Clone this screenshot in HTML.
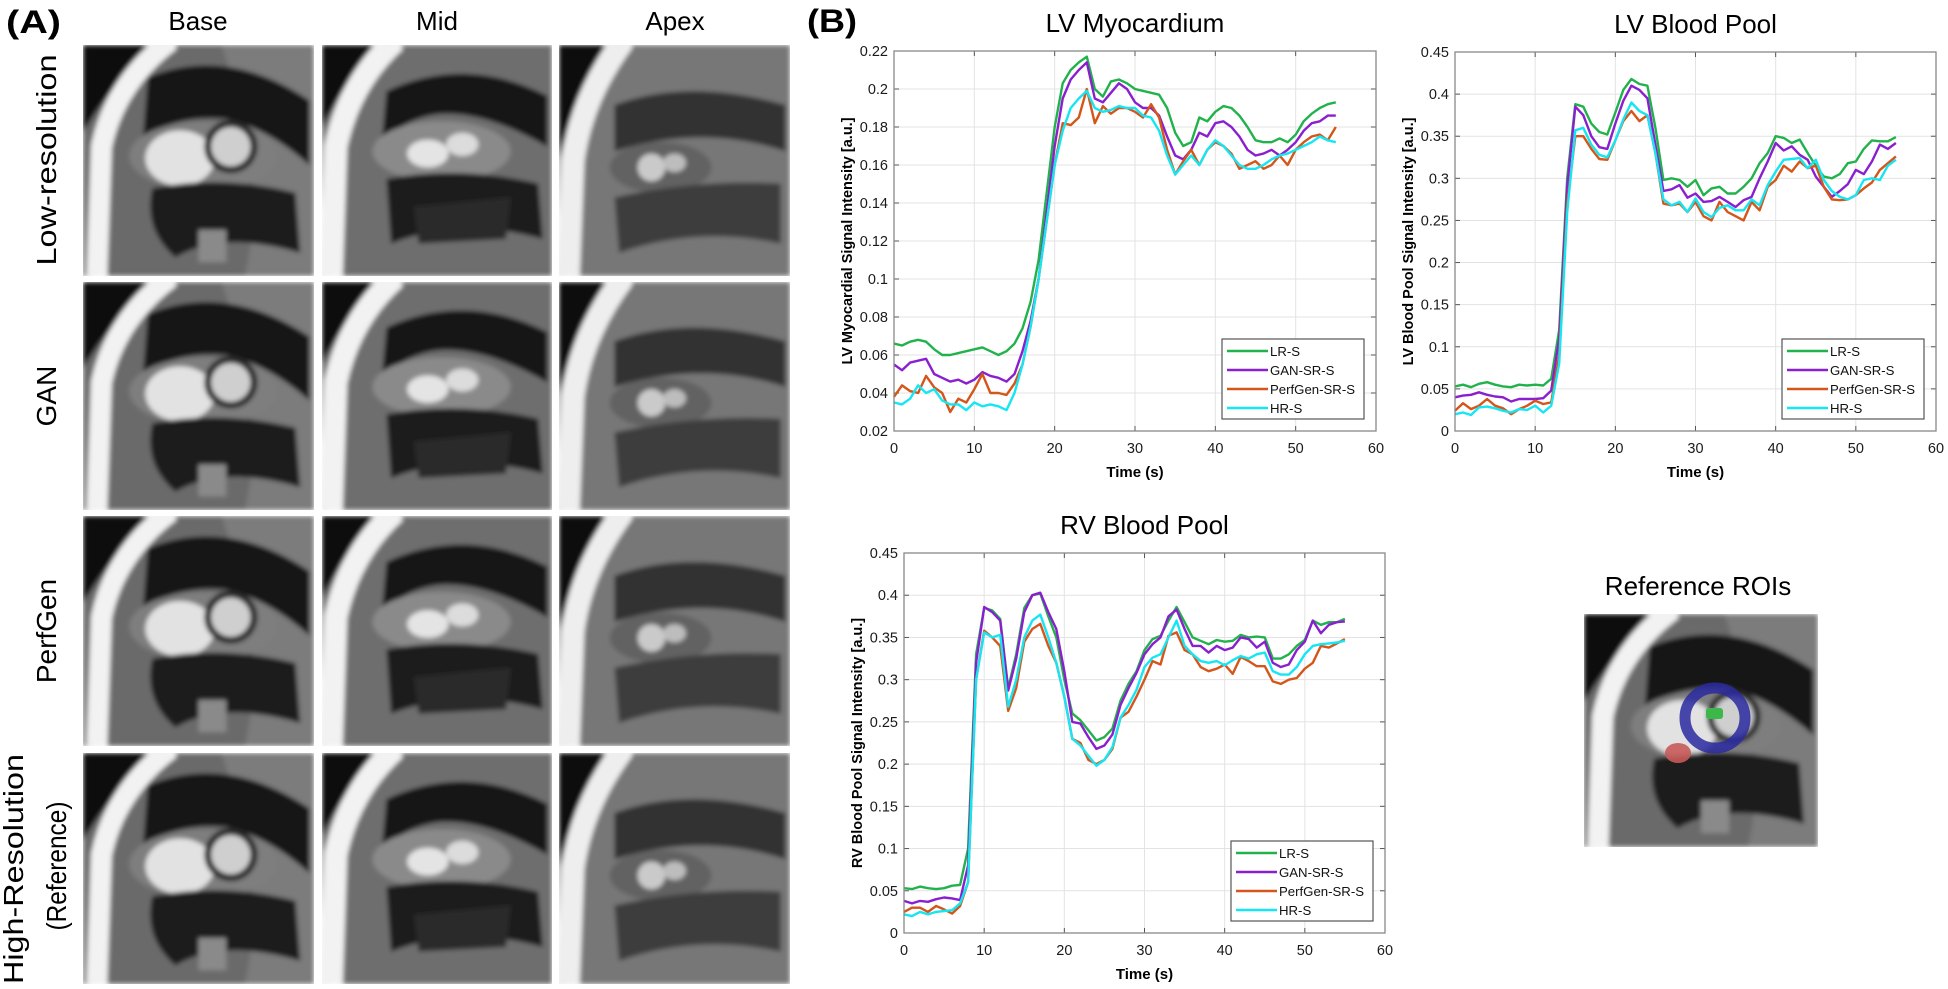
<!DOCTYPE html>
<html><head><meta charset="utf-8">
<style>
html,body{margin:0;padding:0;background:#fff;}
#fig{position:absolute;left:0;top:0;width:1948px;height:989px;}
text{font-family:"Liberation Sans",Arial,sans-serif;}
</style></head>
<body>
<svg id="fig" width="1948" height="989" viewBox="0 0 1948 989" xmlns="http://www.w3.org/2000/svg">
<defs>
<filter id="bl" x="-5%" y="-5%" width="110%" height="110%"><feGaussianBlur stdDeviation="1.0"/></filter>
<clipPath id="tc"><rect x="0" y="0" width="100" height="100"/></clipPath>
<symbol id="mri-base" viewBox="0 0 100 100" preserveAspectRatio="none">
 <g clip-path="url(#tc)" filter="url(#bl)">
 <rect width="100" height="100" fill="#6a6a6a"/>
 <path d="M60,0 L100,0 L100,100 L70,100 Q80,60 60,0Z" fill="#7c7c7c"/>
 <path d="M0,0 L32,0 Q14,14 0,38Z" fill="#0a0a0a"/>
 <path d="M38,-2 Q14,16 8,44 L6,100" stroke="#f2f2f2" stroke-width="9" fill="none"/>
 <path d="M28,14 Q62,0 98,24 L98,52 Q80,36 62,32 Q42,30 26,40Z" fill="#151515"/>
 <ellipse cx="52" cy="48" rx="32" ry="15" fill="#7e7e7e"/>
 <ellipse cx="42" cy="49" rx="15" ry="12" fill="#e2e2e2"/>
 <circle cx="64" cy="44" r="11.5" fill="#2a2a2a"/>
 <circle cx="64" cy="44" r="8.5" fill="#cfcfcf"/>
 <path d="M30,62 Q60,56 92,64 L94,90 Q60,80 40,92 Q26,80 30,62Z" fill="#1a1a1a"/>
 <rect x="50" y="80" width="12" height="14" fill="#8a8a8a"/>
 </g>
</symbol>
<symbol id="mri-mid" viewBox="0 0 100 100" preserveAspectRatio="none">
 <g clip-path="url(#tc)" filter="url(#bl)">
 <rect width="100" height="100" fill="#6e6e6e"/>
 <path d="M0,0 L26,0 Q10,14 0,36Z" fill="#0a0a0a"/>
 <path d="M32,-2 Q12,16 6,44 L4,100" stroke="#f2f2f2" stroke-width="10" fill="none"/>
 <path d="M28,20 Q62,4 98,22 L98,44 Q70,28 50,30 Q36,32 26,42Z" fill="#181818"/>
 <ellipse cx="52" cy="46" rx="30" ry="13" fill="#8a8a8a"/>
 <ellipse cx="46" cy="47" rx="9" ry="6" fill="#e4e4e4"/>
 <ellipse cx="61" cy="43" rx="7" ry="5" fill="#dcdcdc"/>
 <path d="M28,58 Q60,52 94,60 L96,84 Q60,74 30,86Z" fill="#1e1e1e"/>
 <path d="M40,70 L82,66 L80,84 L42,86Z" fill="#2c2c2c"/>
 </g>
</symbol>
<symbol id="mri-apex" viewBox="0 0 100 100" preserveAspectRatio="none">
 <g clip-path="url(#tc)" filter="url(#bl)">
 <rect width="100" height="100" fill="#777"/>
 <path d="M0,0 L22,0 Q8,20 0,50Z" fill="#0e0e0e"/>
 <path d="M28,-2 Q10,22 6,50 L4,100" stroke="#eeeeee" stroke-width="10" fill="none"/>
 <path d="M24,26 Q56,14 98,26 L98,46 Q62,34 24,46Z" fill="#303030"/>
 <ellipse cx="44" cy="53" rx="22" ry="11" fill="#626262"/>
 <ellipse cx="40" cy="53" rx="6" ry="6" fill="#cacaca"/>
 <ellipse cx="50" cy="51" rx="5" ry="4" fill="#bdbdbd"/>
 <path d="M24,66 Q60,58 96,60 L96,86 Q60,78 26,90Z" fill="#3e3e3e"/>
 </g>
</symbol>
</defs>

<!-- Panel A -->
<text x="6" y="33" font-size="32" font-weight="bold" textLength="55" lengthAdjust="spacingAndGlyphs">(A)</text>
<text x="198" y="30" font-size="26" text-anchor="middle">Base</text>
<text x="437" y="30" font-size="26" text-anchor="middle">Mid</text>
<text x="675" y="30" font-size="26" text-anchor="middle">Apex</text>

<text transform="translate(56,160) rotate(-90)" font-size="28" text-anchor="middle" textLength="211" lengthAdjust="spacingAndGlyphs">Low-resolution</text>
<text transform="translate(56,396) rotate(-90)" font-size="28" text-anchor="middle">GAN</text>
<text transform="translate(56,631) rotate(-90)" font-size="28" text-anchor="middle">PerfGen</text>
<text transform="translate(23,869) rotate(-90)" font-size="28" text-anchor="middle" textLength="230" lengthAdjust="spacingAndGlyphs">High-Resolution</text>
<text transform="translate(66,866) rotate(-90)" font-size="28" text-anchor="middle" textLength="129" lengthAdjust="spacingAndGlyphs">(Reference)</text>

<g id="tiles"></g>

<!-- Panel B -->
<text x="807" y="32" font-size="32" font-weight="bold" textLength="50" lengthAdjust="spacingAndGlyphs">(B)</text>
<g id="c1"></g>
<g id="c2"></g>
<g id="c3"></g>

<!-- Reference ROIs -->
<text x="1698" y="595" font-size="26" text-anchor="middle">Reference ROIs</text>
<g>
 <use href="#mri-base" x="1584" y="614" width="234" height="233"/>
 <circle cx="1715" cy="718" r="30" fill="none" stroke="#2a2aa0" stroke-width="11" opacity="0.85"/>
 <rect x="1706" y="708" width="17" height="11" rx="3" fill="#3cb84a"/>
 <ellipse cx="1678" cy="753" rx="13" ry="10" fill="#c85a5a" opacity="0.9"/>
</g>
</svg>

<script>
// ---------- chart data ----------
const seriesNames = ["LR-S","GAN-SR-S","PerfGen-SR-S","HR-S"];
const seriesColors = ["#22b24c","#8a1fcf","#d4561a","#16e6f2"];
const xTicks = [0,10,20,30,40,50,60];
const yTicksMyo = [0.02,0.04,0.06,0.08,0.1,0.12,0.14,0.16,0.18,0.2,0.22];
const yTicksPool = [0,0.05,0.1,0.15,0.2,0.25,0.3,0.35,0.4,0.45];

const myoLR = [0.066,0.065,0.067,0.068,0.067,0.063,0.060,0.060,0.061,0.062,0.063,0.064,0.062,0.060,0.062,0.066,0.074,0.088,0.11,0.145,0.18,0.203,0.21,0.214,0.217,0.2,0.196,0.204,0.205,0.203,0.2,0.199,0.198,0.197,0.19,0.177,0.17,0.172,0.185,0.183,0.188,0.191,0.19,0.186,0.18,0.173,0.172,0.172,0.174,0.172,0.176,0.183,0.187,0.19,0.192,0.193];
const myoGAN = [0.055,0.052,0.056,0.057,0.058,0.050,0.048,0.046,0.047,0.045,0.047,0.051,0.049,0.048,0.046,0.05,0.062,0.078,0.1,0.135,0.17,0.195,0.205,0.21,0.214,0.195,0.193,0.198,0.203,0.2,0.193,0.19,0.19,0.186,0.175,0.165,0.163,0.168,0.177,0.175,0.182,0.183,0.18,0.175,0.168,0.165,0.166,0.168,0.165,0.168,0.172,0.178,0.182,0.183,0.186,0.186];
const myoPerf = [0.038,0.044,0.041,0.040,0.049,0.043,0.040,0.030,0.037,0.035,0.042,0.050,0.040,0.040,0.039,0.045,0.055,0.075,0.1,0.13,0.16,0.182,0.181,0.185,0.2,0.182,0.191,0.187,0.19,0.19,0.188,0.185,0.192,0.185,0.168,0.155,0.162,0.168,0.16,0.168,0.172,0.17,0.166,0.158,0.16,0.162,0.158,0.16,0.165,0.16,0.168,0.172,0.175,0.176,0.173,0.18];
const myoHR = [0.035,0.034,0.037,0.044,0.040,0.042,0.036,0.034,0.034,0.031,0.035,0.033,0.034,0.033,0.031,0.04,0.055,0.075,0.1,0.13,0.16,0.178,0.19,0.195,0.199,0.19,0.188,0.189,0.191,0.19,0.19,0.186,0.185,0.178,0.165,0.155,0.16,0.165,0.16,0.168,0.173,0.17,0.165,0.16,0.158,0.158,0.16,0.163,0.165,0.166,0.168,0.17,0.172,0.175,0.173,0.172];

const lvLR = [0.053,0.055,0.052,0.056,0.058,0.055,0.053,0.052,0.055,0.054,0.055,0.054,0.062,0.12,0.30,0.388,0.385,0.365,0.355,0.352,0.378,0.405,0.418,0.412,0.41,0.36,0.298,0.3,0.298,0.29,0.298,0.28,0.288,0.29,0.282,0.282,0.29,0.3,0.318,0.33,0.35,0.348,0.342,0.346,0.33,0.315,0.302,0.3,0.305,0.318,0.32,0.335,0.345,0.344,0.344,0.349];
const lvGAN = [0.040,0.042,0.043,0.046,0.043,0.041,0.040,0.035,0.038,0.038,0.038,0.039,0.048,0.11,0.29,0.385,0.375,0.35,0.337,0.335,0.365,0.392,0.41,0.405,0.395,0.34,0.285,0.287,0.292,0.277,0.282,0.272,0.273,0.278,0.272,0.266,0.274,0.278,0.3,0.32,0.342,0.333,0.338,0.328,0.322,0.302,0.29,0.278,0.285,0.293,0.31,0.305,0.32,0.34,0.335,0.342];
const lvPerf = [0.024,0.033,0.026,0.030,0.038,0.030,0.027,0.020,0.026,0.030,0.036,0.032,0.034,0.09,0.27,0.35,0.35,0.335,0.323,0.322,0.345,0.368,0.38,0.368,0.375,0.33,0.27,0.268,0.27,0.26,0.272,0.255,0.25,0.272,0.26,0.255,0.25,0.272,0.262,0.29,0.298,0.315,0.308,0.32,0.312,0.315,0.29,0.275,0.274,0.275,0.28,0.288,0.295,0.31,0.318,0.326];
const lvHR = [0.020,0.022,0.019,0.028,0.029,0.027,0.024,0.022,0.026,0.025,0.030,0.022,0.030,0.08,0.26,0.357,0.36,0.34,0.328,0.325,0.345,0.37,0.39,0.38,0.375,0.33,0.275,0.268,0.272,0.26,0.276,0.26,0.254,0.265,0.268,0.262,0.262,0.275,0.268,0.292,0.308,0.322,0.323,0.324,0.312,0.322,0.298,0.285,0.278,0.275,0.28,0.298,0.3,0.298,0.315,0.322];

const rvLR = [0.053,0.052,0.055,0.053,0.052,0.053,0.056,0.057,0.1,0.33,0.385,0.382,0.372,0.29,0.33,0.385,0.4,0.402,0.375,0.35,0.3,0.26,0.252,0.24,0.228,0.232,0.242,0.275,0.295,0.31,0.335,0.348,0.352,0.37,0.386,0.368,0.35,0.346,0.342,0.347,0.345,0.346,0.353,0.35,0.351,0.35,0.325,0.325,0.33,0.34,0.347,0.37,0.365,0.368,0.368,0.372];
const rvGAN = [0.038,0.035,0.038,0.037,0.04,0.042,0.041,0.039,0.08,0.32,0.386,0.38,0.37,0.287,0.325,0.38,0.4,0.403,0.38,0.36,0.31,0.25,0.248,0.232,0.218,0.222,0.235,0.27,0.29,0.308,0.33,0.342,0.35,0.375,0.383,0.36,0.34,0.34,0.332,0.34,0.335,0.338,0.35,0.348,0.338,0.345,0.32,0.315,0.318,0.335,0.345,0.37,0.355,0.365,0.368,0.369];
const rvPerf = [0.025,0.03,0.03,0.025,0.032,0.028,0.023,0.032,0.06,0.3,0.358,0.35,0.34,0.263,0.29,0.345,0.36,0.366,0.34,0.32,0.28,0.23,0.225,0.205,0.2,0.205,0.218,0.255,0.262,0.28,0.3,0.322,0.318,0.352,0.356,0.335,0.33,0.315,0.31,0.313,0.318,0.307,0.327,0.322,0.316,0.316,0.298,0.295,0.3,0.302,0.313,0.32,0.34,0.338,0.343,0.348];
const rvHR = [0.022,0.02,0.025,0.022,0.025,0.026,0.027,0.035,0.06,0.3,0.356,0.35,0.353,0.268,0.3,0.35,0.37,0.377,0.35,0.32,0.28,0.23,0.222,0.21,0.198,0.205,0.22,0.255,0.27,0.288,0.315,0.326,0.33,0.35,0.37,0.34,0.33,0.322,0.32,0.322,0.317,0.323,0.328,0.325,0.33,0.332,0.31,0.306,0.306,0.315,0.33,0.34,0.342,0.343,0.344,0.346];

const NS = "http://www.w3.org/2000/svg";
function mk(parent, tag, attrs, txt){
  const e = document.createElementNS(NS, tag);
  for (const k in attrs) e.setAttribute(k, attrs[k]);
  if (txt !== undefined) e.textContent = txt;
  parent.appendChild(e);
  return e;
}

// MRI tiles
(function(){
  const g = document.getElementById('tiles');
  const cols = [[83,231,'mri-base'],[322,230,'mri-mid'],[559,231,'mri-apex']];
  const rows = [[45,231],[282,228],[516,230],[753,231]];
  const rowNames = ['low-resolution','gan','perfgen','high-resolution'];
  const colNames = ['base','mid','apex'];
  rows.forEach((r,ri)=>cols.forEach((c,ci)=>{
    const u = mk(g,'use',{href:'#'+c[2],x:c[0],y:r[0],width:c[1],height:r[1]});
    
    
  }));
})();

function drawChart(id, box, title, ylabel, yTicks, yMin, yMax, series){
  const g = document.getElementById(id);
  const [L,T,R,B] = box;
  const xs = v => L + (v - 0) / (60 - 0) * (R - L);
  const ys = v => B - (v - yMin) / (yMax - yMin) * (B - T);
  const t = mk(g,'text',{x:(L+R)/2,y:T-19,'font-size':26,'text-anchor':'middle'},title);
  
  
  mk(g,'rect',{x:L,y:T,width:R-L,height:B-T,fill:'#fff'});
  const grid = mk(g,'g',{stroke:'#e3e3e3','stroke-width':1});
  
  
  xTicks.forEach(v=>{ const x=xs(v); mk(grid,'line',{x1:x,x2:x,y1:T,y2:B}); });
  yTicks.forEach(v=>{ const y=ys(v); mk(grid,'line',{x1:L,x2:R,y1:y,y2:y}); });
  const xa = mk(g,'g',{});
  
  
  xTicks.forEach(v=>{ const x=xs(v);
    mk(xa,'line',{x1:x,x2:x,y1:B,y2:B-5,stroke:'#555','stroke-width':1});
    mk(xa,'line',{x1:x,x2:x,y1:T,y2:T+5,stroke:'#555','stroke-width':1});
    const l = mk(xa,'text',{x:x,y:B+22,'font-size':14.5,'text-anchor':'middle',fill:'#1a1a1a'},String(v));
    
    
  });
  const ya = mk(g,'g',{});
  
  
  yTicks.forEach(v=>{ const y=ys(v);
    mk(ya,'line',{x1:L,x2:L+5,y1:y,y2:y,stroke:'#555','stroke-width':1});
    mk(ya,'line',{x1:R,x2:R-5,y1:y,y2:y,stroke:'#555','stroke-width':1});
    const l = mk(ya,'text',{x:L-6,y:y+5,'font-size':14.5,'text-anchor':'end',fill:'#1a1a1a'},String(+v.toFixed(2)));
    
    
  });
  const xt = mk(g,'text',{x:(L+R)/2,y:B+46,'font-size':15,'font-weight':'bold','text-anchor':'middle'},'Time (s)');
  
  
  const yt = mk(g,'text',{transform:`translate(${L-42},${(T+B)/2}) rotate(-90)`,'font-size':14.5,'font-weight':'bold','text-anchor':'middle'},ylabel);
  
  
  series.forEach((s,i)=>{
    const n = s.length;
    const pts = s.map((v,k)=> xs(k*55/(n-1)).toFixed(1)+','+ys(v).toFixed(1)).join(' ');
    const pl = mk(g,'polyline',{points:pts,fill:'none',stroke:seriesColors[i],'stroke-width':2.4,'stroke-linejoin':'round'});
    
    
  });
  mk(g,'rect',{x:L,y:T,width:R-L,height:B-T,fill:'none',stroke:'#888','stroke-width':1.3});
  const lw=142, lh=80, lx=R-12-lw, ly=B-12-lh;
  const lg = mk(g,'g',{});
  
  
  mk(lg,'rect',{x:lx,y:ly,width:lw,height:lh,fill:'#fff',stroke:'#555','stroke-width':1.2});
  seriesNames.forEach((nm,i)=>{
    const yy = ly+12+i*19;
    const e = mk(lg,'g',{});
    
    
    mk(e,'line',{x1:lx+5,x2:lx+46,y1:yy,y2:yy,stroke:seriesColors[i],'stroke-width':2.4});
    mk(e,'text',{x:lx+48,y:yy+5,'font-size':13.2,fill:'#111'},nm);
  });
}

drawChart('c1',[894,51,1376,431],'LV Myocardium','LV Myocardial Signal Intensity [a.u.]',yTicksMyo,0.02,0.22,[myoLR,myoGAN,myoPerf,myoHR]);
drawChart('c2',[1455,52,1936,431],'LV Blood Pool','LV Blood Pool Signal Intensity [a.u.]',yTicksPool,0,0.45,[lvLR,lvGAN,lvPerf,lvHR]);
drawChart('c3',[904,553,1385,933],'RV Blood Pool','RV Blood Pool Signal Intensity [a.u.]',yTicksPool,0,0.45,[rvLR,rvGAN,rvPerf,rvHR]);
</script>
</body></html>
